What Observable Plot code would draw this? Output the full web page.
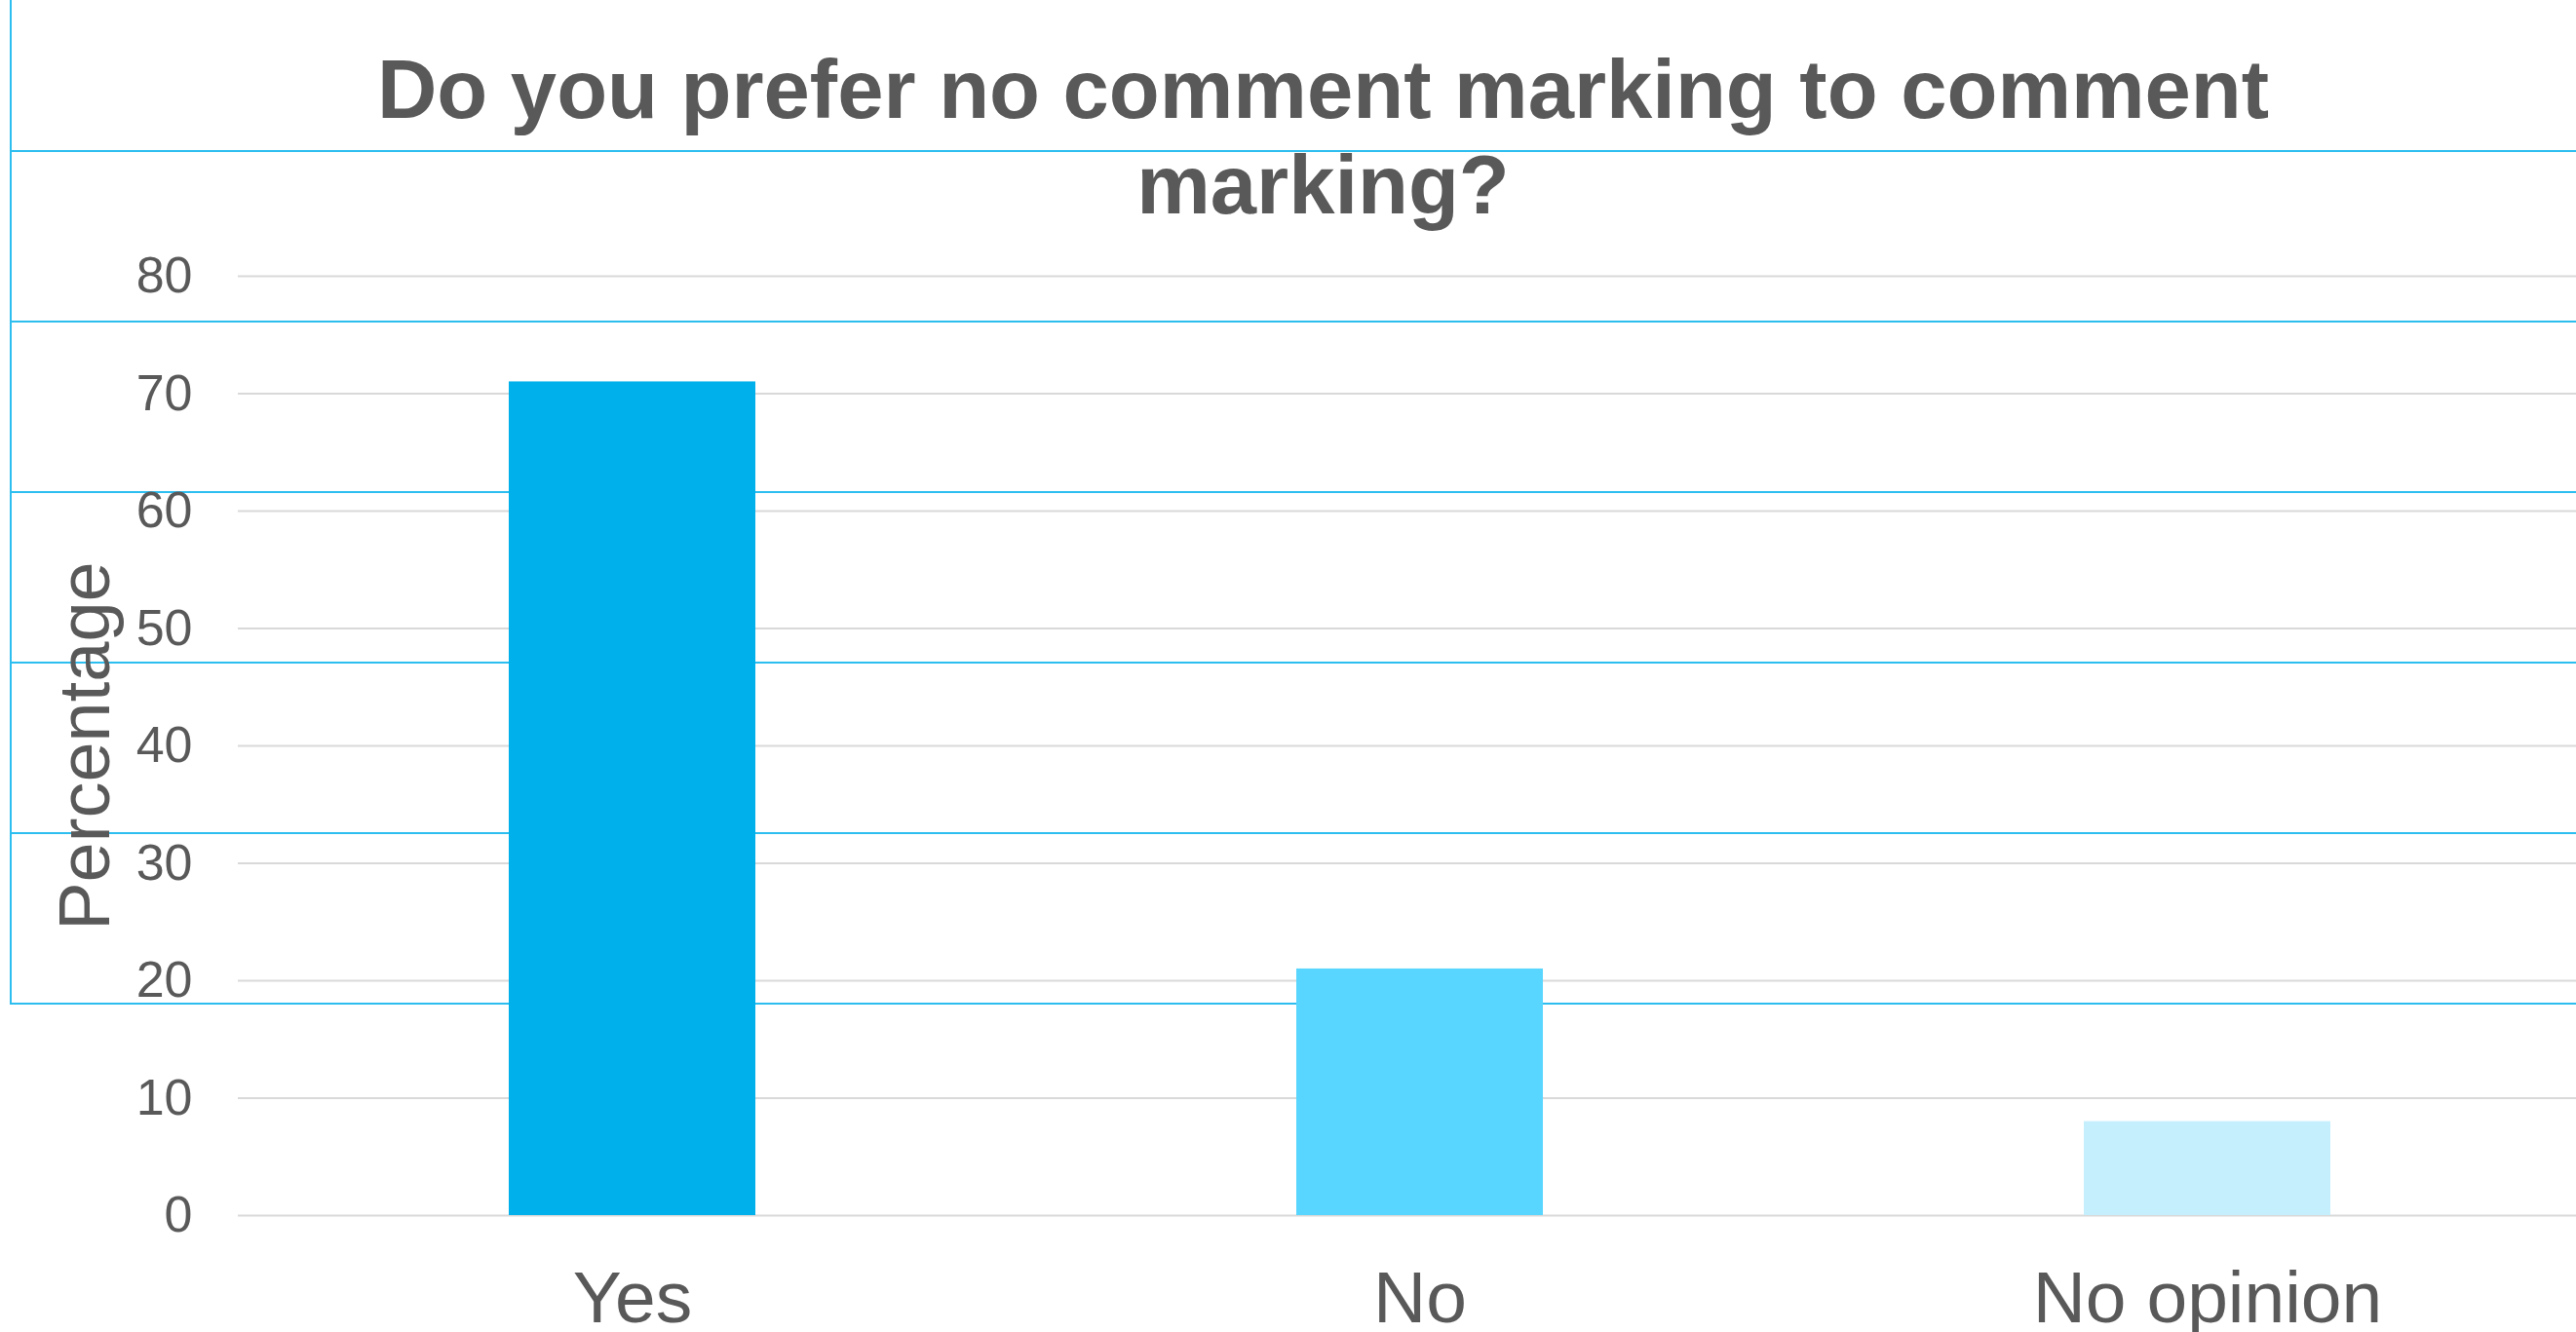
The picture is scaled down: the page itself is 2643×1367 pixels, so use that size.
<!DOCTYPE html>
<html>
<head>
<meta charset="utf-8">
<script src="https://cdn.jsdelivr.net/npm/d3@7"></script>
<script src="https://cdn.jsdelivr.net/npm/@observablehq/plot@0.6"></script>
<style>
  html, body { margin: 0; padding: 0; background: #ffffff; }
  #wrap { position: relative; width: 2643px; height: 1367px; overflow: hidden; font-family: "Liberation Sans", Arial, sans-serif; }
  #deco { position: absolute; left: 0; top: 0; width: 2643px; height: 1367px; z-index: 0; }
  #deco div { position: absolute; background: #2dbef0; }
  #chart { position: absolute; left: 0; top: 0; z-index: 1; }
  #title { position: absolute; left: 0; top: 43px; width: 2643px; box-sizing: border-box; padding-left: 72px;
           text-align: center; font-weight: bold; font-size: 85px; line-height: 98px; color: #595959; z-index: 2; }
</style>
</head>
<body>
<div id="wrap">
  <div id="deco"></div>
  <div id="chart"></div>
  <div id="title">Do you prefer no comment marking to comment<br>marking?</div>
</div>
<script>
const categories = ["Yes", "No", "No opinion"];
const values = [71, 21, 8];
const colors = ["#00b0ea", "#58d6ff", "#c6effd"];
const yTicks = [0, 10, 20, 30, 40, 50, 60, 70, 80];
const yLabel = "Percentage";

const data = categories.map((c, i) => ({category: c, value: values[i]}));

// background decoration lines (slide table borders)
const deco = document.getElementById("deco");
const v = document.createElement("div");
v.style.cssText = "left:10px;top:0;width:2px;height:1031px;";
deco.appendChild(v);
[154, 329, 504, 679, 854, 1029].forEach(y => {
  const h = document.createElement("div");
  h.style.cssText = `left:10px;top:${y}px;width:2633px;height:2px;`;
  deco.appendChild(h);
});

const chart = Plot.plot({
  width: 2643,
  height: 1367,
  marginLeft: 244,
  marginRight: 0,
  marginTop: 283,
  marginBottom: 120,
  style: {background: "transparent", fontFamily: "Liberation Sans, Arial, sans-serif", color: "#595959", overflow: "visible"},
  x: {type: "band", domain: categories, range: [244, 2668], paddingInner: 0.687, paddingOuter: 0.3435, label: null},
  y: {domain: [0, 80], label: null},
  color: {domain: categories, range: colors},
  marks: [
    Plot.gridY(yTicks, {stroke: "#d9d9d9", strokeOpacity: 1, strokeWidth: 2}),
    Plot.barY(data, {x: "category", y: "value", fill: "category"}),
    Plot.axisY(yTicks, {tickSize: 0, tickPadding: 47, fontSize: 52, fill: "#595959", label: null}),
    Plot.axisX({tickSize: 0, tickPadding: 56, fontSize: 75, fill: "#595959", label: null}),
    Plot.text([yLabel], {frameAnchor: "left", textAnchor: "middle", lineAnchor: "middle", dx: -156, rotate: -90, fontSize: 74, fill: "#595959"})
  ]
});
document.getElementById("chart").appendChild(chart);
</script>
</body>
</html>
